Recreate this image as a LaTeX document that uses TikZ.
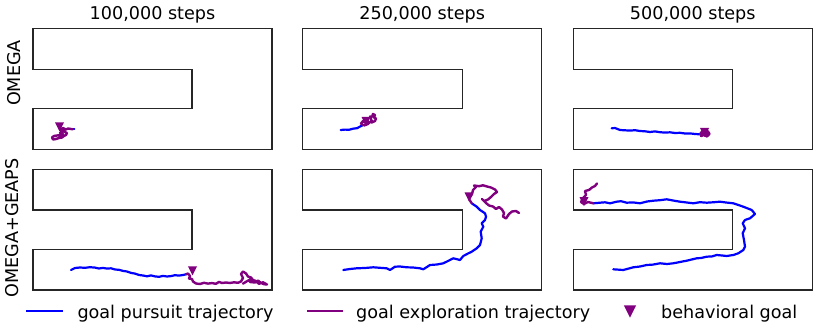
\documentclass[tikz,border=0pt]{standalone}
\usepackage{fontspec}
\setmainfont{DejaVu Sans}
\definecolor{pursuit}{RGB}{0,0,255}
\definecolor{explore}{RGB}{128,0,128}
\tikzset{
  maze/.style={draw=black!85,line width=1.5pt,line join=miter},
  pursuitpath/.style={pursuit,line width=2.2pt,line join=round,line cap=round},
  explorepath/.style={explore,line width=2.4pt,line join=round,line cap=round},
  txt/.style={font=\fontsize{17.6}{21}\selectfont,inner sep=0pt},
  goalmark/.pic={\fill[explore] (-4.5,-4.5) -- (4.5,-4.5) -- (0,4.5) -- cycle;}
}
\begin{document}
\begin{tikzpicture}[x=1pt,y=-1pt]
  \useasboundingbox (0,0) rectangle (831,334);
  \node[txt,anchor=base] (title100) at (152.5,19.5) {100,000 steps};
  \node[txt,anchor=base] (title250) at (422.2,19.5) {250,000 steps};
  \node[txt,anchor=base] (title500) at (692.8,19.5) {500,000 steps};
  \node[txt,anchor=base,rotate=90] (rowomega) at (20,73) {OMEGA};
  \node[txt,anchor=base,rotate=90] (rowgeaps) at (18.5,228) {OMEGA+GEAPS};

  \draw[maze] (33,28.7) -- (272,28.7) -- (272,149.3) -- (33,149.3) -- (33,108.7) -- (192,108.7) -- (192,69.3) -- (33,69.3) -- cycle;
  \draw[maze] (302.7,28.7) -- (541.7,28.7) -- (541.7,149.3) -- (302.7,149.3) -- (302.7,108.7) -- (462.3,108.7) -- (462.3,69.3) -- (302.7,69.3) -- cycle;
  \draw[maze] (573.3,28.7) -- (812.3,28.7) -- (812.3,149.3) -- (573.3,149.3) -- (573.3,108.7) -- (732.7,108.7) -- (732.7,69.3) -- (573.3,69.3) -- cycle;
  \draw[maze] (33,169.3) -- (272,169.3) -- (272,290) -- (33,290) -- (33,249.3) -- (192,249.3) -- (192,210) -- (33,210) -- cycle;
  \draw[maze] (302.7,169.3) -- (541.7,169.3) -- (541.7,290) -- (302.7,290) -- (302.7,249.3) -- (462.3,249.3) -- (462.3,210) -- (302.7,210) -- cycle;
  \draw[maze] (573.3,169.3) -- (812.3,169.3) -- (812.3,290) -- (573.3,290) -- (573.3,249.3) -- (732.7,249.3) -- (732.7,210) -- (573.3,210) -- cycle;

  \draw[pursuitpath] (72.5,129.3) -- (74.3,129.3);
  \draw[explorepath] (73,129.3) -- (71,129) -- (68,128.5) -- (66,129.5) -- (63,128) -- (60,129.5) -- (62,131.5) -- (60,133) -- (63,134) -- (61,135) -- (57,135.5) -- (54,136) -- (52,137.5) -- (53,139.5) -- (56,139) -- (59,138) -- (62,137.5) -- (64,136) -- (66,135) -- (67,133) -- (64,131.5) -- (62,130);
  \pic at (59.5,127) {goalmark};

  \draw[pursuitpath] (340.7,130) -- (345,129.6) -- (349,129.8) -- (353,128.7) -- (357,128.2) -- (363,125);
  \draw[explorepath] (363,125) -- (361,123.5) -- (363,121) -- (365,122.5) -- (366,120) -- (368,121.5) -- (367,124) -- (364,125.5) -- (368,124) -- (370,122) -- (372,122.5) -- (371,119) -- (370,116.5) -- (372,117) -- (373,114) -- (375,115) -- (374,117.5) -- (376,118.5) -- (375,121) -- (373,122) -- (371,120);
  \pic at (366,121.5) {goalmark};

  \draw[pursuitpath] (611.7,128.3) -- (615,128) -- (620,130) -- (625,130.3) -- (630,130.6) -- (635,130.2) -- (640,131) -- (645,131.3) -- (650,132) -- (655,131.4) -- (660,132.2) -- (665,132.6) -- (670,132.3) -- (675,133) -- (680,132.8) -- (685,133.5) -- (690,133.4) -- (695,134) -- (700,134.3);
  \draw[explorepath] (700,134.3) -- (702,131.5) -- (705,130.5) -- (708,131.5) -- (709.5,134) -- (707,136.5) -- (704,135) -- (701,136) -- (703,133) -- (706,133.5) -- (704,131.5) -- (707,134.5);
  \pic at (704.5,132.5) {goalmark};

  \draw[pursuitpath] (71,270) -- (75,268) -- (80,267.5) -- (85,267.8) -- (90,267.2) -- (95,267.6) -- (99,268.5) -- (103,267.9) -- (107,268.6) -- (111,268.3) -- (115,269.5) -- (119,269.8) -- (123,270.9) -- (127,271.5) -- (131,272.9) -- (135,273.6) -- (139,275) -- (143,275.5) -- (147,276.3) -- (151,275.4) -- (155,276.4) -- (159,276.8) -- (163,275.9) -- (167,276.5) -- (171,276.1) -- (175,275.2) -- (179,275.6) -- (183,275) -- (186,274.3);
  \draw[explorepath] (186,274.3) -- (188,273.5) -- (190,276) -- (189,278.5) -- (192,279) -- (193,281.5) -- (196,283.5) -- (200,284) -- (204,282.8) -- (208,283.6) -- (212,283.1) -- (216,283.8) -- (219,281.9) -- (222,283) -- (226,282.5) -- (230,283) -- (234,282.3) -- (238,282.8) -- (241,281.5) -- (243,278) -- (241,274) -- (243,271.5) -- (246,273.5) -- (248,276.5) -- (251,277.5) -- (253,280) -- (250,282) -- (255,282.5) -- (258,280.5) -- (261,283) -- (264,284.2) -- (267,284.5) -- (263,282.3) -- (259,283.8) -- (255,280.6) -- (250,279.6) -- (246,281.8) -- (243,283.6);
  \pic at (192.5,270.8) {goalmark};

  \draw[pursuitpath] (343.3,270) -- (350,269) -- (356.7,268.3) -- (365,268) -- (373.3,267.3) -- (380,267.8) -- (386.7,268.3) -- (390,270) -- (395,266.7) -- (400,266.5) -- (406.7,267.3) -- (413,267.5) -- (420,268.3) -- (423.3,269.3) -- (430,265) -- (437,264.5) -- (443.3,263.3) -- (448,261) -- (453.3,258.3) -- (460,260) -- (463.3,256) -- (468,253.5) -- (471.7,251.7) -- (476.7,248.3) -- (480,245) -- (481.7,238.3) -- (480.7,231.7) -- (483.3,226.7) -- (481.7,223.3) -- (485,220) -- (486,216.7) -- (485,213.3) -- (480,210) -- (476.7,206.7) -- (471.7,203.3);
  \draw[explorepath] (471.7,203.3) -- (469,199) -- (472,194) -- (473,190) -- (476,187) -- (474,185.5) -- (479,186.2) -- (483,185.3) -- (487,186.5) -- (491,187.5) -- (495,189.5) -- (497,192) -- (494,194) -- (491,197) -- (488,199.5) -- (484,201) -- (482,199) -- (486,203) -- (489,205.5) -- (493,206.5) -- (496,209) -- (499,207) -- (502,209.5) -- (504,213) -- (503,216.5) -- (506,218.5) -- (509,214) -- (512,211.5) -- (516,211) -- (519,213);
  \pic at (469,197) {goalmark};

  \draw[pursuitpath] (613.3,269.3) -- (623.3,270) -- (633.3,267.3) -- (640,266.5) -- (646.7,265) -- (653,264.6) -- (660,263.3) -- (667,264) -- (673.3,263.3) -- (680,262) -- (686.7,260.7) -- (696.7,258.3) -- (701,258) -- (706.7,256.7) -- (712,256.4) -- (716.7,255) -- (722,255.5) -- (726.7,256) -- (733.3,255) -- (738.3,253.3) -- (743.3,250) -- (745,246.7) -- (744,240) -- (742.7,233.3) -- (745,228.3) -- (742.7,223.3) -- (745,220) -- (750,218.3) -- (755,214) -- (751.7,210) -- (743.3,206.7) -- (733.3,203.3) -- (726,202.5) -- (720,201.7) -- (713,202.3) -- (706.7,202.7) -- (700,202.2) -- (693.3,203.3) -- (686,202.4) -- (680,201.7) -- (673,200.5) -- (666.7,199.3) -- (660,200.2) -- (653.3,200.7) -- (647,201.5) -- (640,203.3) -- (633,202.4) -- (626.7,202.7) -- (621,201.2) -- (616.7,201.7) -- (610,203.3) -- (605,202.3) -- (600,202.7) -- (593.3,203.3);
  \draw[explorepath] (593.3,203.3) -- (588,202) -- (584,204) -- (581,202) -- (583,198) -- (586,195) -- (585,191) -- (589,190) -- (592,187.5) -- (595,186) -- (597,183.5);
  \pic at (584,201.7) {goalmark};

  \coordinate (pursuitA) at (26,310.7);
  \coordinate (pursuitB) at (63.3,310.7);
  \draw[pursuitpath,line cap=butt] (pursuitA) -- (pursuitB);
  \node[txt,anchor=base west] (pursuitlbl) at (77.3,318) {goal pursuit trajectory};
  \coordinate (exploreA) at (307.3,310.7);
  \coordinate (exploreB) at (343.3,310.7);
  \draw[explorepath,line cap=butt] (exploreA) -- (exploreB);
  \node[txt,anchor=base west] (explorelbl) at (356,318) {goal exploration trajectory};
  \pic[scale=1.35] at (630,311.5) {goalmark};
  \node[txt,anchor=base west] (goallbl) at (661,318) {behavioral goal};
\end{tikzpicture}
\end{document}
